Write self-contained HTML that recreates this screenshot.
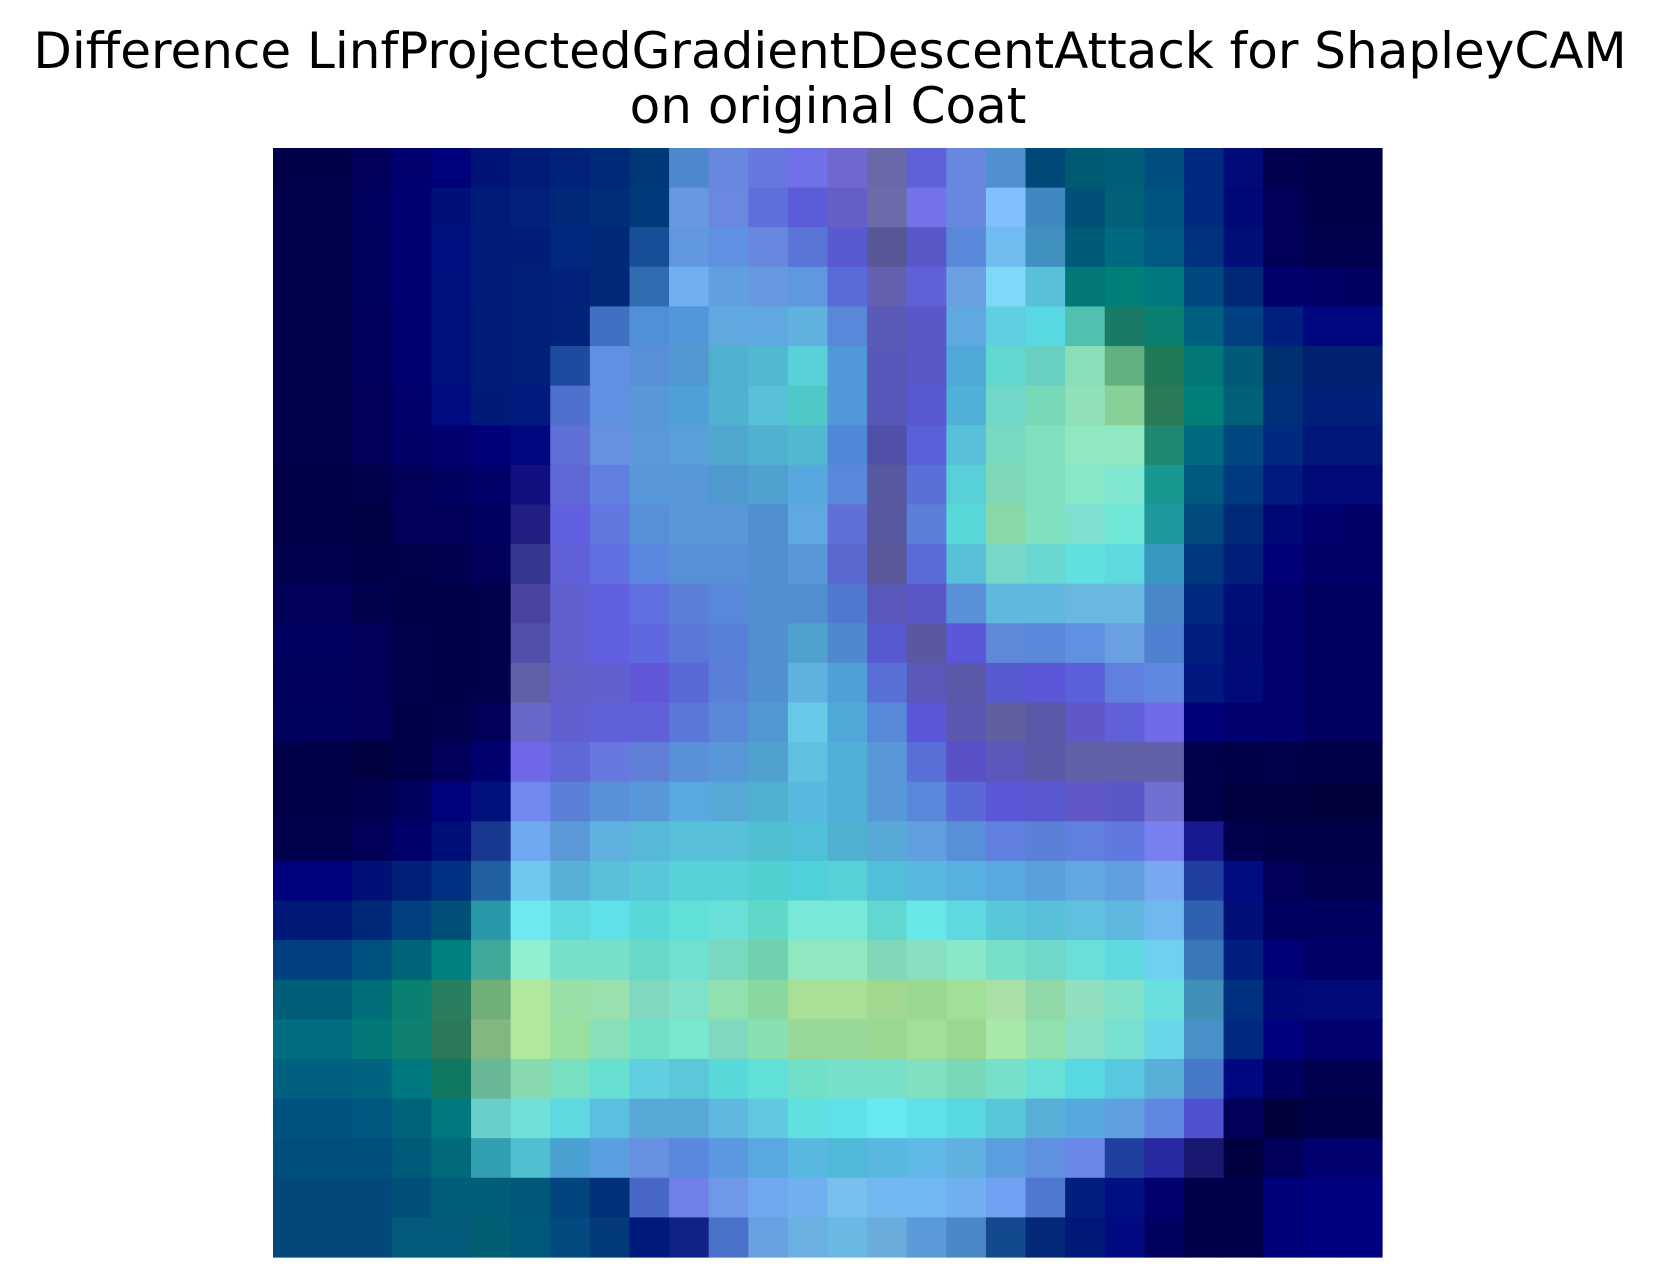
<!DOCTYPE html>
<html>
<head>
<meta charset="utf-8">
<style>
  html, body { margin: 0; padding: 0; background: #ffffff; }
  svg { display: block; }
</style>
</head>
<body>
<svg id="chart" width="1655" height="1287" viewBox="0 0 1655 1287" xmlns="http://www.w3.org/2000/svg">
  <rect x="0" y="0" width="1655" height="1287" fill="#ffffff"/>
  <g font-family="'DejaVu Sans', 'Liberation Sans', sans-serif" font-size="50" fill="#000000" text-anchor="middle">
    <text x="830" y="68">Difference LinfProjectedGradientDescentAttack for ShapleyCAM</text>
    <text x="828" y="123">on original Coat</text>
  </g>
  <g id="cells"></g>
</svg>
<script>
// Heatmap cell colours, one array per image row (28 x 28)
const row00 = ["00004a","00004a","00005a","000070","00007a","001478","001c78","002278","002a78","003878","5088d0","6888e0","6878e0","7070e8","6e68d0","6a6aaa","6060d8","6888e0","5090d0","004878","005a72","005e78","004e80","002a80","000a7a","000050","00004a","00004a"];
const row01 = ["00004c","00004c","000060","000074","00107a","001c7a","00227a","002878","002c78","003a7a","6898e0","6a88e0","5e70dc","5c5cd8","6460c8","6c6caa","7472e8","6888e0","80c0ff","4088c0","005078","006078","005480","002a80","000878","000058","00004a","00004a"];
const row02 = ["00004c","00004c","00005e","000074","001080","001c7a","001e78","00287e","002878","184e98","6298e0","6090e0","6888e0","5a74d8","5a5ad0","585898","5858c8","5a88d8","70bcf0","4090c0","005a78","006a80","005a84","003280","001078","000058","000050","000050"];
const row03 = ["00004c","00004c","00005e","000074","00107e","001c7a","002078","00227a","002878","306cb0","70b0f0","60a0e0","6898e0","6098e0","5a6ad8","6460b0","6060d8","6aa0e0","80d8f8","58c0d8","007878","008078","007880","004880","002878","00006c","000068","000060"];
const row04 = ["00004c","00004c","00005c","000074","00107c","001c78","002078","002278","4070c0","5090d8","5098d8","60a8e0","60a8e0","60b0e0","5888d8","5a5ab8","5858c8","60a8e0","60d0e0","58d8e0","50c0b0","1a7a68","0a8070","006080","004080","002080","000880","000880"];
const row05 = ["00004c","00004c","00005c","000072","00107c","001c78","002078","1e4aa0","6090e0","5890d8","5098d0","50b0d0","50b8d0","5ad0d8","5098d8","5858b8","5858c8","50a8d8","60d8d0","68d0c0","88e0b8","60b080","207a58","007878","005a78","003070","002070","002070"];
const row06 = ["00004c","00004c","00005a","00006c","000c80","001a78","001a80","5070d0","6090e0","5898d8","50a0d8","50b0d0","58c0d8","50c8c8","5098d8","5858b8","5858d0","50b0d8","70d8c8","78d8b8","90e0b8","88d098","2a7a58","008078","006078","00307a","00207a","00207a"];
const row07 = ["00004c","00004c","000058","000068","000070","000078","000880","6070d8","6890e0","5a98d8","58a0d8","50a8d0","50b0d0","50b8d0","5088d8","5050a8","5a60d8","58c0d8","78d8c0","80e0c0","90e8c0","90e8c0","208870","006a80","004880","002a80","00187a","00187a"];
const row08 = ["000048","000048","00004c","000058","000060","000068","101080","6068d8","6080e0","5898d8","5898d8","5098d0","50a0d0","58a8e0","5a88d8","5858a0","5a70d8","58d0d8","80d8b8","80e0c0","88e8c8","80e8d0","189890","005a80","003a80","001a80","000a78","000a78"];
const row09 = ["000048","000048","000044","000058","000058","000060","201e80","6060e0","6078e0","5890d8","5898d8","5898d8","5090d0","60a8e0","6070d8","5858a0","5a80d8","58d8d8","88d8a8","80e0c0","80e0d0","70e8d8","2098a0","004a80","002a78","000878","000070","000068"];
const row10 = ["000050","000050","000048","00004c","000050","000058","343690","6060d8","6070e0","5a88e0","5890d8","5890d8","5090d0","5898d8","5a68d0","5a5898","5a6ad8","58c0d8","78d8c8","68d8d0","60e0e0","60d8e0","3898c0","003880","00207a","000078","000068","000068"];
const row11 = ["000058","000058","00004e","000048","000048","00004c","4844a0","6060d0","6060e0","6070e0","5a80d8","5888d8","5090d0","5090d0","5078d0","5a58b8","5a58c8","5a90d8","60b8e0","60b8e0","68b8e0","68b8e0","4888c8","002a80","001078","000070","000060","000060"];
const row12 = ["000060","000060","000058","00004c","000048","00004c","5050a8","6060d0","6060e0","6068e0","5a78d8","5880d8","5090d0","50a0d0","5088d0","5858d0","5a58a0","5a58d8","6088d8","5a88d8","6090e0","68a0e0","5080d0","002080","000c78","000070","000060","000060"];
const row13 = ["00005c","00005c","000058","00004c","000048","00004c","6060a8","6060c8","6060d0","6058d8","5a68d8","5a80d8","5090d0","60b0e0","50a0d8","5870d8","5a58b8","5a58a8","5a5ad0","5a58d8","5a60d8","6080e0","6088e0","001880","000a78","000070","000060","000060"];
const row14 = ["00005e","00005e","000058","000048","00004c","000058","6868c8","6060d0","6060d8","6060d8","5a78d8","5a88d8","5098d0","68c8e8","50a8d8","5888d8","5a58d8","5a58b0","6060a0","5a58a8","6058c8","6060d8","6e6ae8","000078","000070","000070","000060","000060"];
const row15 = ["00004a","000048","000040","000048","000058","000070","7068e8","6068d8","6878e0","6080d8","5a90d8","5898d8","50a0d0","60c0e0","50b0d8","5898d8","5870d8","5a50c8","5a58b8","5a58a8","6060a8","6060a8","6060a8","00004c","000048","00004c","000048","000048"];
const row16 = ["00004a","00004a","000050","00005e","00007a","00107c","7088f0","5a80d8","5a90d8","5898d8","5aa8e0","58a8d8","50b0d0","58b8e0","50b0d8","5898d8","5a88d8","5a68d8","5a58d8","5a58d0","6058c8","5a58c8","7070d0","00004c","000040","000040","00003c","00003c"];
const row17 = ["00004e","00004e","000058","00006a","00107a","183890","70a8f0","5a98d8","60b0e0","58b8d8","58c0d8","58c0d8","50c0d0","50c0d8","50b0d0","58a8d8","60a0e0","5890d8","6080e0","5a80d8","6080e0","6078e0","7880f0","181890","00004e","000048","000048","000048"];
const row18 = ["00007c","00007c","001078","002078","003080","2060a0","70c8f0","58b0d8","58c0d8","58c8d8","58d0d8","58d0d8","50d0d0","50d0d8","58d0d8","50c0d8","58b8e0","58b0e0","5aa8e0","58a0d8","60a8e0","60a0e0","78a8f0","2040a0","000c80","000058","000050","000050"];
const row19 = ["001878","001878","002878","004080","005078","2898a8","70e8f0","60d8e0","60e0e8","58d8d8","60e0d8","68e0d8","60d8c8","78e8d8","78e8d8","60d8d0","68e8e8","60d8e0","58c8d8","58c0d8","60c0e0","60b8e0","70b8f0","3060b0","001078","000060","000060","000060"];
const row20 = ["004080","004080","005080","006478","008080","40a898","90f0d0","78e0c8","78e0c8","68d8c8","70e0d0","78d8c0","70d0b0","90e8c0","90e8c0","80d8b8","88e0c0","88e8c8","78e0c8","70d8c8","68e0d8","60d8e0","70d0f0","3878b8","002080","000078","000068","000068"];
const row21 = ["005e78","005e78","006e78","0a8070","287e5e","70b078","b0e8a0","98e0a8","98e0b0","80d8c0","80e0c8","90e0b0","88d8a0","a8e098","a8e098","a0d890","98d890","a0e098","a8e0a8","90d8a8","90e0c0","80e0c8","68e0e0","4090b8","003080","000878","000a78","000a78"];
const row22 = ["006e80","006e80","007878","108070","2a7a5a","80b880","b0e8a0","98e0a0","88e0b8","70e0c8","78e8d0","80d8c0","88e0b0","98d898","98d898","98d890","a0e098","98d890","a8e8a8","90e0b0","88e0c8","78e0d0","68d8e8","4890c8","002880","000080","000070","000070"];
const row23 = ["006080","006080","006480","007880","107860","68b898","88d8b0","78e0c0","68e0d0","60d0e0","5ac8d8","58d8d8","60e0d8","70e0c8","78e0c8","78e0c8","80e0c0","78d8b8","78e0c8","68e0d8","58d8e0","58c8e0","58b0d8","4878c8","000880","000060","000050","000050"];
const row24 = ["005280","005280","005880","006478","007880","68d0c8","70e0d8","60d8e0","5ac0e0","58a8d8","58a8d8","60b8e0","60c8e0","60e0e0","60e0e8","68e8f0","60e0e8","58d8e0","58c8d8","58b0d8","58a8e0","60a0e0","6088e0","5050d0","000058","00003c","000048","000048"];
const row25 = ["004e7c","004e7c","004e7c","005a7a","006a7a","30a0b0","50c0d0","4aa0d0","5aa0e0","6890e0","5a88e0","5a98e0","5aa8e0","58b8e0","50b8d8","58b8e0","60b8e8","60b0e0","5aa0e0","6090e0","6a88e8","2040a0","2828a0","181870","000040","000058","000070","000070"];
const row26 = ["02487a","02487a","02487a","02507a","005e78","005e78","005878","004480","003078","4868c8","7080e8","7098e8","70a8f0","70b0f0","78c0f0","70b8f0","70b8f0","70b0f0","70a0f0","5078d0","002080","001080","000070","00004a","00004a","000078","000080","000080"];
const row27 = ["02487a","02487a","02487a","035a7a","035a7a","005f72","02587a","034a80","033a7a","001a7c","0e2288","4a72c8","68a0e0","6ab0e0","6ab8e4","6aacdc","5a9ad8","4a88c8","134a8e","022877","011878","010a80","000060","00004a","00004a","000078","000080","000080"];

const rows = [row00,row01,row02,row03,row04,row05,row06,row07,row08,row09,row10,row11,row12,row13,
              row14,row15,row16,row17,row18,row19,row20,row21,row22,row23,row24,row25,row26,row27];

// Axis geometry (image extent)
const AX_LEFT = 273, AX_TOP = 148, AX_W = 1109, AX_H = 1109;
const nRows = rows.length;
const nCols = rows[0].length;
function xScale(c) { return AX_LEFT + c * AX_W / nCols; }
function yScale(r) { return AX_TOP + r * AX_H / nRows; }

const NS = "http://www.w3.org/2000/svg";
const g = document.getElementById("cells");
for (let r = 0; r < nRows; r++) {
  for (let c = 0; c < nCols; c++) {
    const x0 = xScale(c), x1 = xScale(c + 1);
    const y0 = yScale(r), y1 = yScale(r + 1);
    const rect = document.createElementNS(NS, "rect");
    rect.setAttribute("x", x0.toFixed(2));
    rect.setAttribute("y", y0.toFixed(2));
    rect.setAttribute("width", (x1 - x0 + 0.6).toFixed(2));
    rect.setAttribute("height", (y1 - y0 + 0.6).toFixed(2));
    rect.setAttribute("fill", "#" + (rows[r][c] || rows[r][rows[r].length - 1]));
    
    
    g.appendChild(rect);
  }
}
</script>
</body>
</html>
